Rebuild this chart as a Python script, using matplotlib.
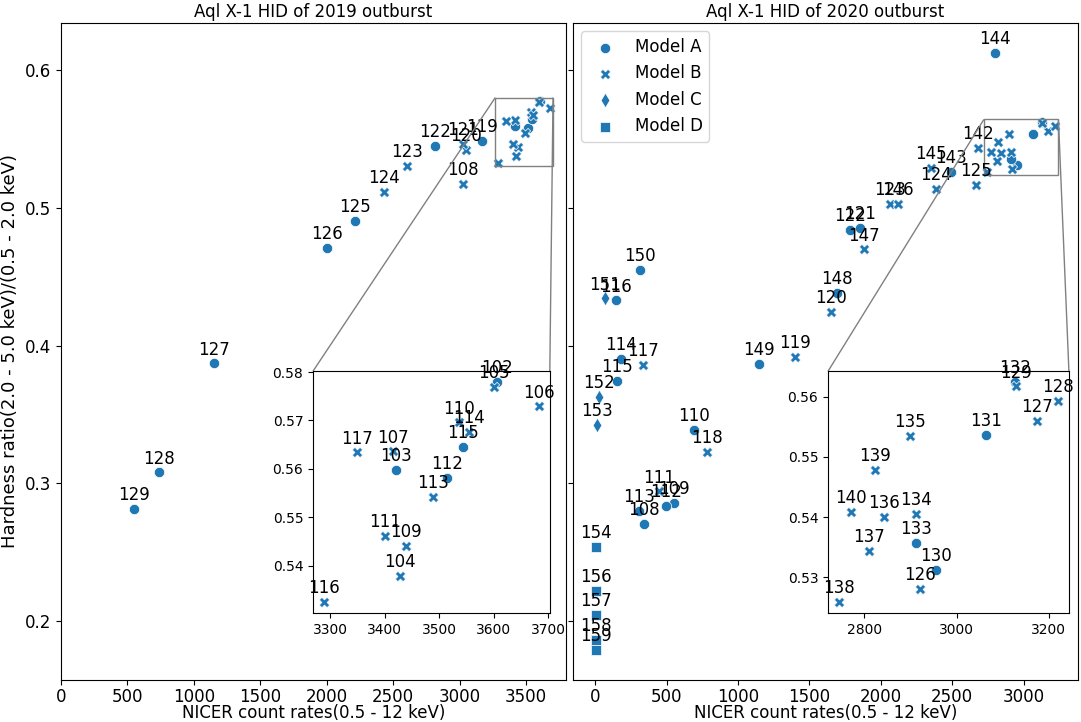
import matplotlib.pyplot as plt
from matplotlib.ticker import MultipleLocator
from mpl_toolkits.axes_grid1.inset_locator import mark_inset

# ---- 2019 outburst ----
obs_2019 = [102, 103, 104, 105, 106, 107, 108, 109, 110, 111, 112, 113, 114, 115, 116, 117,
            119, 120, 121, 122, 123, 124, 125, 126, 127, 128, 129]
cr_2019 = [3605, 3420, 3427, 3600, 3683, 3415, 3027, 3438, 3537, 3400, 3515, 3488, 3555, 3543, 3288, 3349,
           3165, 3045, 3022, 2818, 2603, 2430, 2210, 2000, 1150, 737, 548]
hr_2019 = [0.5779, 0.5597, 0.5379, 0.5770, 0.5729, 0.5636, 0.5175, 0.5441, 0.5696, 0.5462, 0.5581, 0.5542,
           0.5676, 0.5645, 0.5325, 0.5634,
           0.5489, 0.5421, 0.5465, 0.5450, 0.5307, 0.5118, 0.4905, 0.4712, 0.3870, 0.3078, 0.2815]
model_2019 = ['A', 'A', 'B', 'B', 'B', 'B', 'B', 'B', 'B', 'B', 'A', 'B', 'B', 'A', 'B', 'B',
              'A', 'B', 'B', 'A', 'B', 'B', 'A', 'A', 'A', 'A', 'A']
# observations that get their own zoomed panel
zoom_2019 = [102, 103, 104, 105, 106, 107, 109, 110, 111, 112, 113, 114, 115, 116, 117]

# ---- 2020 outburst ----
obs_2020 = [108, 109, 110, 111, 112, 113, 114, 115, 116, 117, 118, 119, 120, 121, 122, 123, 124, 125,
            126, 127, 128, 129, 130, 131, 132, 133, 134, 135, 136, 137, 138, 139, 140,
            142, 143, 144, 145, 146, 147, 148, 149, 150, 151, 152, 153, 154, 156, 157, 158, 159]
cr_2020 = [340, 554, 691, 448, 497, 307, 177, 153, 146, 332, 781, 1398, 1652, 1856, 1782, 2063, 2383, 2664,
           2920, 3174, 3220, 3128, 2956, 3063, 3127, 2912, 2911, 2900, 2842, 2811, 2745, 2823, 2771,
           2680, 2492, 2801, 2351, 2122, 1879, 1695, 1148, 311, 66, 24, 14, 5, 5, 5, 5, 5]
hr_2020 = [0.2706, 0.2856, 0.3384, 0.2940, 0.2835, 0.2800, 0.3900, 0.3740, 0.4327, 0.3862, 0.3227, 0.3920,
           0.4247, 0.4853, 0.4841, 0.5028, 0.5135, 0.5169,
           0.5281, 0.5559, 0.5593, 0.5617, 0.5312, 0.5536, 0.5624, 0.5357, 0.5405, 0.5535, 0.5400, 0.5344,
           0.5259, 0.5478, 0.5408,
           0.5438, 0.5261, 0.6126, 0.5290, 0.5028, 0.4698, 0.4385, 0.3867, 0.4550, 0.4342, 0.3624, 0.3423,
           0.2536, 0.2216, 0.2041, 0.1862, 0.1787]
model_2020 = ['A', 'A', 'A', 'B', 'A', 'A', 'A', 'A', 'A', 'B', 'B', 'B', 'B', 'A', 'A', 'B', 'B', 'B',
              'B', 'B', 'B', 'B', 'A', 'A', 'A', 'A', 'B', 'B', 'B', 'B', 'B', 'B', 'B',
              'B', 'A', 'A', 'B', 'B', 'B', 'A', 'A', 'A', 'C', 'C', 'C', 'D', 'D', 'D', 'D', 'D']
zoom_2020 = list(range(126, 141))

models = ['A', 'B', 'C', 'D']
marker_of = {'A': 'o', 'B': 'X', 'C': 'd', 'D': 's'}

plt.rcParams['font.size'] = 12


def draw(ax, obs, cr, hr, mod, keep, label_keep, fs=12):
    for m in models:
        xs = [c for o, c, mm in zip(obs, cr, mod) if mm == m and o in keep]
        ys = [h for o, h, mm in zip(obs, hr, mod) if mm == m and o in keep]
        if not xs:
            continue
        ax.scatter(xs, ys, marker=marker_of[m], s=55, color='C0',
                   edgecolor='white', linewidth=0.5, label='Model ' + m)
    for o, c, h in zip(obs, cr, hr):
        if o in label_keep:
            ax.annotate(str(o), (c, h), xytext=(0, 3.5), textcoords='offset points',
                        ha='center', va='bottom', fontsize=fs)


fig, (ax1, ax2) = plt.subplots(1, 2, sharey=True, figsize=(10.81, 7.22), dpi=100)
fig.subplots_adjust(left=61 / 1081, right=1078 / 1081, bottom=42 / 722, top=699 / 722, wspace=0.014)

# left: 2019
outside = [o for o in obs_2019 if o not in zoom_2019]
draw(ax1, obs_2019, cr_2019, hr_2019, model_2019, obs_2019, outside)
ax1.set_xlim(0, 3800)
ax1.set_title('Aql X-1 HID of 2019 outburst', fontsize=12, pad=4)
ax1.set_xlabel('NICER count rates(0.5 - 12 keV)', labelpad=-1.5)
ax1.set_ylabel('Hardness ratio(2.0 - 5.0 keV)/(0.5 - 2.0 keV)', fontsize=13)
ax1.xaxis.set_major_locator(MultipleLocator(500))
ax1.yaxis.set_major_locator(MultipleLocator(0.1))
ax1.tick_params(axis='x', pad=2)

ins1 = ax1.inset_axes([0.499, 0.102, 0.469, 0.368])
draw(ins1, obs_2019, cr_2019, hr_2019, model_2019, zoom_2019, zoom_2019)
ins1.xaxis.set_major_locator(MultipleLocator(100))
ins1.yaxis.set_major_locator(MultipleLocator(0.01))
ins1.tick_params(labelsize=10)
mark_inset(ax1, ins1, loc1=2, loc2=1, fc='none', ec='0.5')

# right: 2020
outside = [o for o in obs_2020 if o not in zoom_2020]
draw(ax2, obs_2020, cr_2020, hr_2020, model_2020, obs_2020, outside)
ax2.set_title('Aql X-1 HID of 2020 outburst', fontsize=12, pad=4)
ax2.set_xlabel('NICER count rates(0.5 - 12 keV)', labelpad=-1.5)
ax2.xaxis.set_major_locator(MultipleLocator(500))
ax2.tick_params(axis='x', pad=2)
ax2.legend(loc='upper left')

ins2 = ax2.inset_axes([0.505, 0.102, 0.477, 0.368])
draw(ins2, obs_2020, cr_2020, hr_2020, model_2020, zoom_2020, zoom_2020)
ins2.xaxis.set_major_locator(MultipleLocator(200))
ins2.yaxis.set_major_locator(MultipleLocator(0.01))
ins2.tick_params(labelsize=10)
mark_inset(ax2, ins2, loc1=2, loc2=1, fc='none', ec='0.5')

fig.savefig('out.png', dpi=100)
